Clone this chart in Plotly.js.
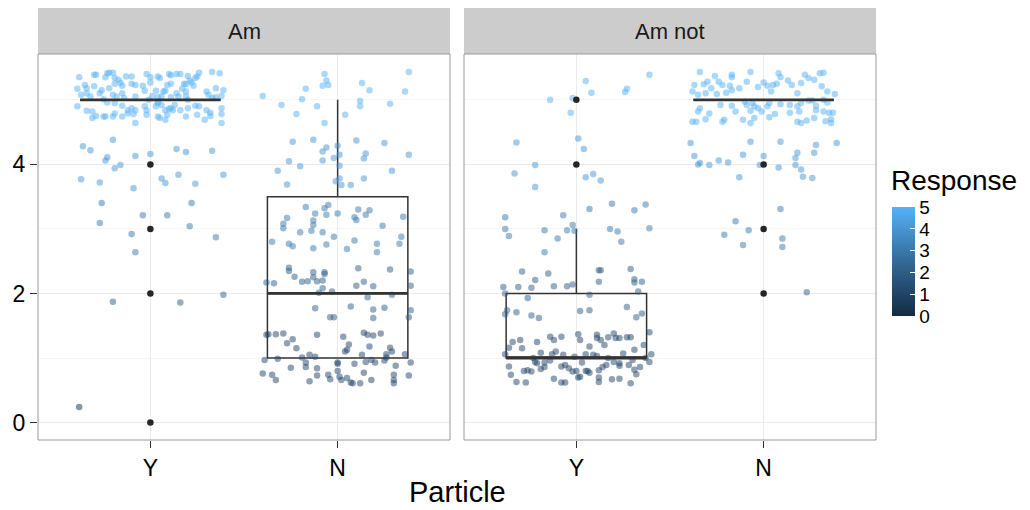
<!DOCTYPE html>
<html>
<head>
<meta charset="utf-8">
<script src="https://cdn.plot.ly/plotly-3.0.1.min.js"></script>
<style>html,body{margin:0;padding:0;background:#fff}#chart{width:1030px;height:510px}</style>
</head>
<body>
<div id="chart"></div>
<script>
// ---------- data ----------
const facets = ['Am', 'Am not'];
const particles = ['Y', 'N'];
const responseTicks = [0, 1, 2, 3, 4, 5];

// jittered observations (horizontal jitter offset, jittered response)
const amY_dx = [-0.38,-0.30,-0.29,-0.23,-0.22,-0.20,-0.24,-0.19,-0.17,-0.13,-0.10,-0.02,0.00,0.04,0.05,0.10,0.11,0.14,0.16,0.20,0.24,0.25,0.26,0.33,0.37,0.21,0.22,0.18,0.19,0.11,0.09,
  -0.39,-0.35,-0.34,-0.30,-0.26,-0.22,-0.19,-0.16,-0.15,-0.10,-0.08,-0.04,0.00,-0.03,0.03,0.07,0.08,0.14,0.17,0.19,0.23,0.30,0.35,0.39,
  -0.37,-0.34,-0.32,-0.27,-0.25,-0.20,-0.18,-0.15,-0.14,-0.08,-0.01,0.01,0.04,0.04,0.06,0.11,0.15,0.19,0.20,0.31,0.33,0.35,0.38,
  -0.39,-0.34,-0.31,-0.23,-0.19,-0.15,-0.12,-0.10,-0.08,-0.03,-0.02,0.03,0.04,0.06,0.08,0.10,0.11,0.12,0.13,0.16,0.20,0.24,0.26,0.30,0.32,0.38,
  -0.31,-0.29,-0.25,-0.24,-0.20,-0.19,-0.15,-0.12,-0.09,-0.08,-0.02,0.04,0.05,0.08,0.09,0.19,0.25,0.29,0.32,0.38,0.38,
  -0.20,-0.36,-0.32,-0.23,-0.24,-0.16,-0.19,-0.08,0.00,0.14,0.19,0.33,-0.37,-0.27,-0.09,0.06,0.08,0.15,0.24,0.39,-0.26,0.22,-0.27,-0.04,0.09,0.21,-0.10,0.35,-0.08,-0.20,0.16,0.39,-0.38];
const amY_y = [5.35,5.39,5.39,5.41,5.42,5.42,5.35,5.34,5.31,5.36,5.36,5.40,5.35,5.36,5.34,5.40,5.38,5.40,5.40,5.37,5.34,5.36,5.42,5.43,5.41,5.30,5.27,5.25,5.24,5.25,5.23,
  5.17,5.23,5.18,5.21,5.15,5.18,5.25,5.26,5.22,5.25,5.23,5.22,5.27,5.14,5.14,5.13,5.14,5.10,5.17,5.13,5.22,5.13,5.18,5.15,
  5.08,5.10,5.05,5.10,5.01,5.08,5.05,5.10,5.03,5.05,5.00,5.06,5.04,4.97,5.05,5.04,5.05,5.05,5.00,5.08,5.03,5.04,5.06,
  4.90,4.83,4.82,4.96,4.95,4.91,4.84,4.87,4.84,4.90,4.84,4.90,4.95,4.92,4.84,4.86,4.87,4.84,4.92,4.84,4.87,4.91,4.90,4.84,4.80,4.87,
  4.72,4.75,4.74,4.74,4.74,4.79,4.74,4.79,4.78,4.64,4.77,4.74,4.72,4.69,4.77,4.74,4.77,4.69,4.75,4.64,4.78,
  4.38,4.28,4.22,4.11,4.06,3.99,3.94,4.13,4.16,4.24,4.19,4.21,3.77,3.72,3.63,3.78,3.71,3.84,3.70,3.84,3.40,3.40,3.09,3.21,3.21,3.04,2.92,2.87,2.64,1.87,1.86,1.98,0.24];

const amN_dx = [-0.07,-0.06,-0.08,-0.05,-0.17,-0.40,-0.19,-0.30,-0.22,-0.11,-0.07,0.04,0.13,0.17,0.38,0.36,0.12,0.12,0.28,
  -0.24,-0.13,-0.06,-0.08,0.00,0.10,0.25,0.15,0.01,-0.02,-0.08,0.14,0.38,-0.26,-0.20,0.01,-0.32,0.29,0.14,0.01,-0.01,0.02,0.07,-0.27,
  -0.17,-0.07,-0.05,-0.12,-0.06,0.00,0.11,0.17,0.09,0.10,0.15,0.35,-0.27,-0.29,-0.29,-0.13,-0.13,-0.14,-0.20,-0.08,-0.02,0.24,-0.35,-0.26,-0.24,-0.13,-0.06,0.05,0.09,0.21,0.21,0.33,0.34,
  -0.26,-0.26,-0.23,-0.19,-0.16,-0.13,-0.13,-0.11,-0.07,-0.07,-0.08,-0.10,-0.08,-0.03,-0.38,-0.34,0.11,0.14,0.19,0.10,0.28,0.39,0.39,0.29,0.16,-0.12,0.07,-0.04,-0.02,0.19,0.19,0.25,0.39,0.38,
  -0.38,-0.37,-0.33,-0.29,-0.24,-0.27,-0.22,-0.11,0.03,0.14,0.16,0.19,0.23,0.06,0.05,0.04,0.17,0.28,0.29,0.26,0.36,
  -0.39,-0.32,-0.19,-0.15,-0.12,-0.17,-0.17,-0.25,-0.11,0.00,0.00,0.09,0.13,0.15,0.18,0.20,0.25,0.26,0.31,0.39,
  -0.40,-0.35,-0.33,-0.15,-0.11,-0.05,-0.04,0.00,0.01,0.02,0.05,0.07,0.08,0.12,0.14,0.18,0.30,0.30,0.30,0.38];
const amN_y = [5.40,5.30,5.22,5.23,5.17,5.06,5.01,4.92,4.78,4.90,4.64,4.77,5.26,5.15,5.43,5.13,4.98,4.90,4.94,
  4.35,4.38,4.26,4.20,4.29,4.37,4.33,4.17,4.15,4.10,4.06,4.09,4.15,4.05,3.97,3.98,3.90,3.90,3.78,3.78,3.74,3.68,3.68,3.69,
  3.34,3.32,3.37,3.24,3.22,3.24,3.30,3.29,3.18,3.14,3.22,3.19,3.17,3.08,3.01,3.13,3.06,2.97,2.95,2.95,2.88,3.05,2.80,2.77,2.73,2.70,2.76,2.69,2.82,2.77,2.64,2.77,2.88,
  2.40,2.35,2.26,2.18,2.19,2.33,2.25,2.19,2.33,2.30,2.20,2.01,2.08,2.03,2.17,2.16,2.39,2.18,2.11,2.12,2.37,2.34,2.12,1.98,1.94,1.77,1.80,1.63,1.63,1.75,1.62,1.78,1.74,1.63,
  1.36,1.37,1.37,1.38,1.29,1.23,1.15,1.36,1.33,1.39,1.36,1.35,1.38,1.21,1.13,1.10,1.18,1.16,1.10,1.06,1.06,
  0.97,0.99,1.01,1.05,1.02,0.93,0.86,0.85,0.84,0.93,0.91,0.91,1.05,0.94,0.97,0.93,0.96,1.01,0.88,0.93,
  0.76,0.74,0.66,0.64,0.73,0.74,0.67,0.80,0.71,0.66,0.69,0.62,0.61,0.61,0.77,0.66,0.74,0.66,0.61,0.73];

const notY_dx = [0.05,0.08,0.39,0.27,0.26,-0.14,-0.02,-0.03,0.01,0.04,-0.32,-0.22,-0.33,-0.22,0.05,0.09,0.13,
  0.07,0.19,0.31,0.37,-0.38,-0.07,-0.38,-0.36,-0.17,-0.05,-0.02,-0.01,-0.10,0.18,0.22,0.24,0.39,-0.17,
  -0.29,-0.15,-0.22,0.12,0.13,0.29,0.31,0.31,0.35,0.12,-0.39,-0.31,-0.24,-0.12,-0.05,-0.02,
  -0.38,-0.26,0.07,-0.37,-0.38,-0.32,-0.24,-0.20,0.02,0.07,0.27,0.32,0.35,0.33,
  -0.34,-0.30,-0.29,-0.21,-0.14,-0.12,-0.08,0.01,0.02,0.07,0.11,0.11,0.13,0.15,0.17,0.20,0.21,0.23,0.27,0.29,0.36,0.39,
  -0.36,-0.38,-0.19,-0.13,-0.11,-0.07,-0.01,0.05,0.09,0.11,0.17,0.25,0.31,0.40,
  -0.23,-0.22,-0.17,-0.14,-0.21,-0.19,-0.17,-0.08,-0.06,-0.04,-0.02,0.00,0.03,0.05,0.07,0.12,0.14,0.16,0.20,0.23,0.23,0.28,0.30,0.34,0.37,0.39,0.31,
  -0.36,-0.28,-0.26,-0.24,-0.35,-0.32,-0.27,-0.12,-0.08,-0.06,0.01,0.02,0.12,0.12,0.19,0.23,0.29,0.32,0.06];
const notY_y = [5.29,5.11,5.39,5.17,5.12,5.00,5.03,4.80,4.40,4.24,4.34,3.99,3.86,3.65,3.80,3.85,3.75,
  3.31,3.39,3.29,3.38,3.18,3.21,3.00,2.89,2.98,2.98,3.06,2.97,2.85,3.00,2.96,2.80,3.01,2.64,
  2.34,2.31,2.21,2.36,2.36,2.38,2.22,2.17,2.18,2.18,2.10,2.10,2.09,2.11,2.11,2.14,
  2.00,1.93,1.98,1.74,1.68,1.71,1.66,1.62,1.73,1.74,1.79,1.63,1.69,2.03,
  1.25,1.28,1.15,1.25,1.33,1.28,1.33,1.37,1.28,1.18,1.36,1.31,1.28,1.20,1.32,1.38,1.31,1.31,1.32,1.32,1.20,1.40,
  1.16,1.06,1.08,1.06,1.10,1.05,1.02,1.06,1.05,1.03,1.00,1.07,1.13,1.06,
  1.00,0.94,0.93,0.96,0.92,0.83,0.86,0.87,0.89,0.84,0.79,0.80,0.93,0.80,0.77,0.81,0.86,0.89,0.94,0.92,0.88,0.89,0.97,0.86,1.00,0.94,0.82,
  0.87,0.80,0.81,0.79,0.74,0.63,0.62,0.68,0.62,0.62,0.70,0.71,0.70,0.63,0.67,0.68,0.61,0.75,0.80];

const notN_dx = [-0.34,-0.26,-0.17,-0.17,-0.07,-0.37,-0.38,-0.32,-0.30,-0.28,-0.24,-0.22,-0.18,-0.17,-0.13,-0.09,-0.03,0.00,0.02,0.05,0.07,0.08,0.09,0.13,0.15,0.20,0.22,0.24,0.27,0.30,0.32,0.31,0.34,0.38,-0.35,-0.31,-0.25,-0.20,0.04,0.18,
  -0.34,-0.35,-0.29,-0.23,-0.17,-0.15,-0.10,-0.09,-0.06,-0.05,-0.07,-0.03,-0.01,0.03,0.02,0.06,0.09,0.14,0.18,0.20,0.24,0.28,0.26,0.32,0.34,0.14,0.19,0.28,0.32,0.35,0.37,
  -0.38,-0.36,-0.31,-0.22,-0.21,-0.11,-0.07,-0.05,0.03,0.18,0.20,0.23,0.27,0.33,0.36,0.36,
  -0.39,-0.07,0.09,0.28,0.39,-0.37,-0.35,-0.34,-0.29,-0.24,-0.19,-0.11,0.00,-0.02,0.08,0.18,0.17,0.17,0.20,0.27,0.21,0.26,-0.13,
  0.09,-0.15,-0.08,-0.21,-0.11,0.10,0.10,0.23];
const notN_y = [5.43,5.37,5.39,5.35,5.43,5.23,5.13,5.24,5.28,5.18,5.28,5.23,5.22,5.15,5.18,5.28,5.20,5.27,5.22,5.23,5.25,5.41,5.35,5.30,5.23,5.26,5.39,5.34,5.31,5.41,5.42,5.21,5.13,5.09,5.08,5.10,5.09,5.11,5.13,5.10,
  4.87,4.82,4.79,4.92,4.91,4.82,4.97,4.92,4.95,4.90,4.83,4.87,4.82,4.95,4.90,4.78,4.93,4.92,4.90,4.95,4.99,4.91,4.99,5.00,4.96,4.80,4.82,4.84,4.82,4.80,4.80,
  4.66,4.66,4.70,4.66,4.69,4.69,4.64,4.72,4.73,4.66,4.64,4.68,4.72,4.67,4.70,4.64,
  4.33,4.35,4.35,4.30,4.33,4.13,4.00,4.02,3.99,4.06,4.03,4.15,4.13,3.99,3.95,4.18,4.10,3.99,3.92,4.18,3.81,3.79,3.80,
  3.31,3.12,2.98,2.91,2.75,2.85,2.72,2.02];

// box statistics per facet, in particle order [Y, N]
const boxQ1     = {'Am': [5, 1],   'Am not': [1, 5]};
const boxMedian = {'Am': [5, 2],   'Am not': [1, 5]};
const boxQ3     = {'Am': [5, 3.5], 'Am not': [2, 5]};
const boxLower  = {'Am': [5, 1],   'Am not': [1, 5]};
const boxUpper  = {'Am': [5, 5],   'Am not': [3, 5]};
const outliers  = {'Am': [[4, 3, 2, 0], []], 'Am not': [[4, 5], [4, 3, 2]]};

// ---------- build ----------
const FONT = 'Liberation Sans, Arial, Helvetica, sans-serif';
const scale = [[0, '#132B43'], [0.5, '#336A98'], [1, '#56B1F7']];
const groups = [
  {facet: 'Am', p: 0, dx: amY_dx, y: amY_y},
  {facet: 'Am', p: 1, dx: amN_dx, y: amN_y},
  {facet: 'Am not', p: 0, dx: notY_dx, y: notY_y},
  {facet: 'Am not', p: 1, dx: notN_dx, y: notN_y}
];
const axes = {'Am': ['x', 'y'], 'Am not': ['x2', 'y2']};
const traces = [];
const BOXW = 0.75;

// boxes (drawn beneath points by plotly layering)
facets.forEach(f => {
  particles.forEach((pName, i) => {
    traces.push({
      type: 'box', xaxis: axes[f][0], yaxis: axes[f][1],
      x: [i + 1], q1: [boxQ1[f][i]], median: [boxMedian[f][i]], q3: [boxQ3[f][i]],
      lowerfence: [boxLower[f][i]], upperfence: [boxUpper[f][i]],
      width: BOXW, whiskerwidth: 0, boxpoints: false,
      fillcolor: 'rgba(0,0,0,0)', line: {color: '#333333', width: 1.5},
      showlegend: false, hoverinfo: 'skip'
    });
  });
});

// jittered points
groups.forEach((g, k) => {
  traces.push({
    type: 'scatter', mode: 'markers', xaxis: axes[g.facet][0], yaxis: axes[g.facet][1],
    x: g.dx.map(d => g.p + 1 + d), y: g.y,
    marker: {
      size: 6.5, opacity: 0.5, color: g.y.map(v => Math.round(v)),
      colorscale: scale, cmin: 0, cmax: 5, line: {width: 0},
      showscale: k === 0,
      colorbar: {
        x: 1.019, xanchor: 'left', y: 0.462, yanchor: 'middle',
        len: 0.282, lenmode: 'fraction', thickness: 23, thicknessmode: 'pixels',
        outlinewidth: 0, xpad: 0, ypad: 0,
        tickvals: responseTicks, ticktext: responseTicks.map(String),
        ticks: 'inside', tickcolor: '#ffffff', ticklen: 5,
        tickfont: {family: FONT, size: 19, color: '#000'},
        title: {text: ''}
      }
    },
    showlegend: false, hoverinfo: 'skip'
  });
});

// thick median lines and outliers
facets.forEach(f => {
  particles.forEach((pName, i) => {
    traces.push({
      type: 'scatter', mode: 'lines', xaxis: axes[f][0], yaxis: axes[f][1],
      x: [i + 1 - BOXW / 2, i + 1 + BOXW / 2], y: [boxMedian[f][i], boxMedian[f][i]],
      line: {color: '#333333', width: 2.8}, showlegend: false, hoverinfo: 'skip'
    });
    if (outliers[f][i].length) {
      traces.push({
        type: 'scatter', mode: 'markers', xaxis: axes[f][0], yaxis: axes[f][1],
        x: outliers[f][i].map(() => i + 1), y: outliers[f][i],
        marker: {size: 6.5, color: '#262626'}, showlegend: false, hoverinfo: 'skip'
      });
    }
  });
});

const stripH = 46 / 386;
const xaxisBase = {
  range: [0.4, 2.6], tickvals: [1, 2], ticktext: particles,
  showgrid: true, gridcolor: '#EBEBEB', gridwidth: 1, zeroline: false,
  ticks: 'outside', ticklen: 7, tickcolor: '#333333', tickwidth: 1,
  tickfont: {family: FONT, size: 23, color: '#000'}, showline: false
};
const yaxisBase = {
  range: [-0.27, 5.71], tickvals: [0, 2, 4], showgrid: true, gridcolor: '#EBEBEB', gridwidth: 1,
  minor: {tickvals: [1, 3, 5], showgrid: true, gridcolor: '#F5F5F5', gridwidth: 1, ticks: ''},
  zeroline: false, ticks: 'outside', ticklen: 7, tickcolor: '#333333', tickwidth: 1,
  tickfont: {family: FONT, size: 23, color: '#000'}, showline: false
};
const d1 = 412 / 838, d2 = 426 / 838;

const shapes = [], annotations = [];
facets.forEach((f, i) => {
  const xr = (i === 0 ? 'x' : 'x2') + ' domain', yr = (i === 0 ? 'y' : 'y2') + ' domain';
  shapes.push({type: 'rect', xref: xr, yref: yr, x0: 0, x1: 1, y0: 1, y1: 1 + stripH,
    fillcolor: '#CCCCCC', line: {width: 0}, layer: 'above'});
  shapes.push({type: 'rect', xref: xr, yref: yr, x0: 0, x1: 1, y0: 0, y1: 1,
    fillcolor: 'rgba(0,0,0,0)', line: {color: '#9A9A9A', width: 1}, layer: 'above'});
  annotations.push({xref: xr, yref: yr, x: 0.5, y: 1 + stripH / 2, text: f, showarrow: false,
    xanchor: 'center', yanchor: 'middle', font: {family: FONT, size: 22, color: '#1A1A1A'}});
});
annotations.push({xref: 'paper', yref: 'paper', x: 0.5, y: -0.135, text: 'Particle', showarrow: false,
  xanchor: 'center', yanchor: 'middle', font: {family: FONT, size: 29, color: '#000'}});
annotations.push({xref: 'paper', yref: 'paper', x: 1.016, y: 0.672, text: 'Response', showarrow: false,
  xanchor: 'left', yanchor: 'middle', font: {family: FONT, size: 28, color: '#000'}});

const layout = {
  width: 1030, height: 510,
  margin: {l: 38, r: 154, t: 54, b: 70},
  paper_bgcolor: '#ffffff', plot_bgcolor: '#ffffff',
  font: {family: FONT},
  xaxis: Object.assign({}, xaxisBase, {domain: [0, d1], anchor: 'y'}),
  xaxis2: Object.assign({}, xaxisBase, {domain: [d2, 1], anchor: 'y2'}),
  yaxis: Object.assign({}, yaxisBase, {domain: [0, 1], anchor: 'x'}),
  yaxis2: Object.assign({}, yaxisBase, {domain: [0, 1], anchor: 'x2', showticklabels: false, ticks: ''}),
  shapes: shapes, annotations: annotations, showlegend: false
};

Plotly.newPlot('chart', traces, layout, {displayModeBar: false, staticPlot: true});
</script>
</body>
</html>
